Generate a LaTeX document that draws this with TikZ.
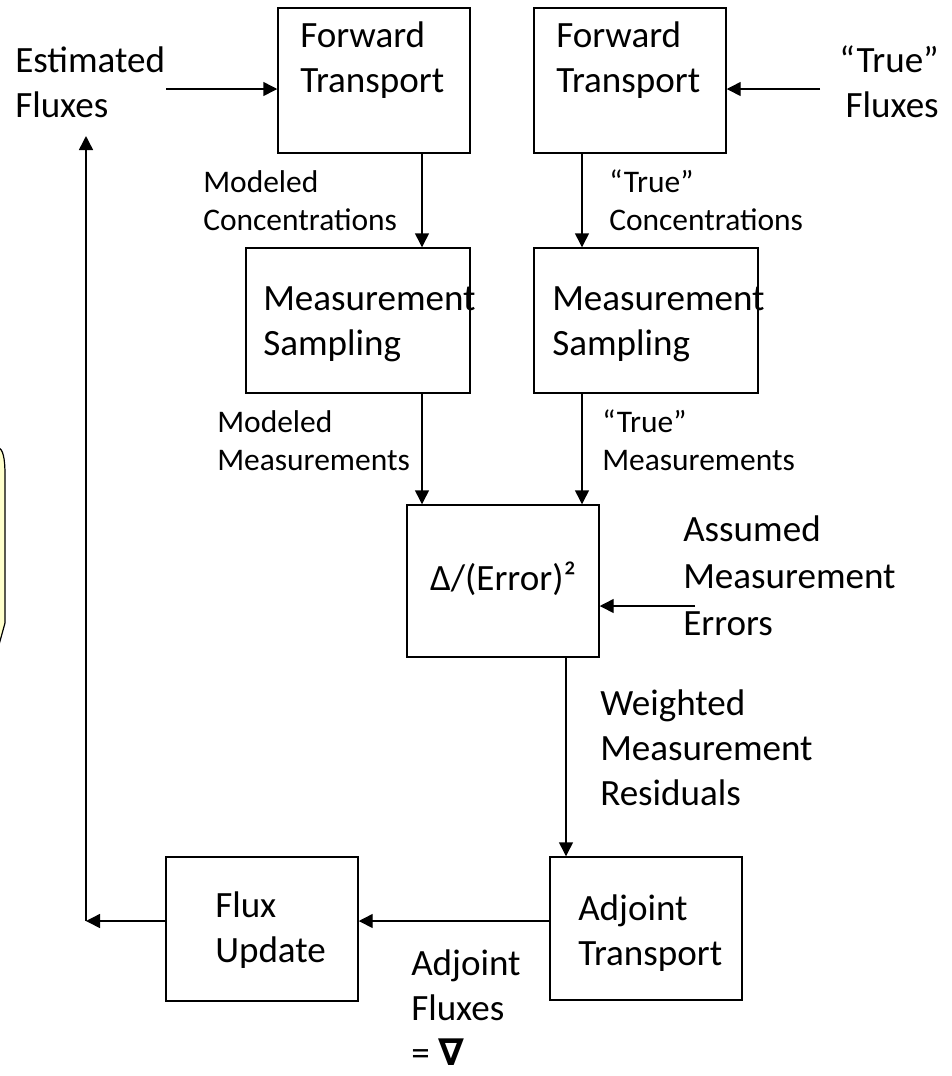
\documentclass[tikz,border=0pt]{standalone}
\usepackage{fontspec}
\setmainfont{Carlito}
\newfontfamily\nablafont{DejaVu Sans}
\usetikzlibrary{arrows.meta}
\definecolor{notefill}{HTML}{FFFFCC}
\tikzset{
  blk/.style={draw, line width=1.1pt, inner sep=0pt, minimum width=144pt, minimum height=108.75pt},
  big/.style={inner sep=0pt, anchor=north west, align=left, font=\fontsize{27.8}{33.75}\selectfont},
  sml/.style={inner sep=0pt, anchor=north west, align=left, font=\fontsize{23.6}{28.5}\selectfont},
  flow/.style={line width=1.1pt, -{Triangle[length=10.5pt,width=10.5pt]}}
}
\begin{document}
\begin{tikzpicture}[x=0.75pt,y=-0.75pt]
\useasboundingbox (0,0) rectangle (951,1076);
% note cut off at the left edge
\begin{scope}
  \clip (0,0) rectangle (951,1076);
  \draw[fill=notefill, line width=0.9pt] (-20,447) -- (-2,447) .. controls (3,449) and (5,458) .. (5,475) -- (5,623) -- (-3,652) -- (-20,652) -- cycle;
\end{scope}
% boxes
\node[blk] (ftl) at (374,80.5) {};
\node[blk] (ftr) at (630,80.5) {};
\node[blk, minimum width=168pt] (msl) at (358,320.5) {};
\node[blk, minimum width=168pt] (msr) at (646,320.5) {};
\node[blk, minimum height=114pt] (err) at (503,581) {};
\node[blk, minimum height=107.25pt] (adj) at (646,928.5) {};
\node[blk, minimum height=108pt] (flux) at (262,929) {};
% texts in the boxes
\node[big] (ftltxt) at (300,15.5) {\strut Forward\\Transport};
\node[big] (ftrtxt) at (556,15.5) {\strut Forward\\Transport};
\node[big] (msltxt) at (263,278.5) {\strut Measurement\\Sampling};
\node[big] (msrtxt) at (552,278.5) {\strut Measurement\\Sampling};
\node[big, anchor=center] (errtxt) at (503,579) {Δ/(Error)²};
\node[big] (adjtxt) at (578,888.5) {\strut Adjoint\\Transport};
\node[big] (fluxtxt) at (215,885.5) {\strut Flux\\Update};
% outside texts
\node[big] (est) at (15,40.5) {\strut Estimated\\Fluxes};
\node[big, anchor=north east, align=right] (tru) at (939,40.5) {\strut “True”\\Fluxes};
\node[sml] (mcon) at (203,165.4) {\strut Modeled\\Concentrations};
\node[sml] (tcon) at (609,165.4) {\strut “True”\\Concentrations};
\node[sml] (mmea) at (217,405.4) {\strut Modeled\\Measurements};
\node[sml] (tmea) at (602,405.4) {\strut “True”\\Measurements};
\node[big, font=\fontsize{27.8}{35.25}\selectfont] (ass) at (683,508) {\strut Assumed\\Measurement\\Errors};
\node[big] (wgt) at (600,683.5) {\strut Weighted\\Measurement\\Residuals};
\node[big] (adjflx) at (411,944) {\strut Adjoint\\Fluxes\\= {\nablafont\bfseries ∇}};
% free ends and columns
\coordinate (estend) at (166,89);
\coordinate (truend) at (820,89);
\coordinate (assend) at (695,606);
\coordinate (lcol) at (422,0);
\coordinate (rcol) at (582,0);
\coordinate (ccol) at (566,0);
\coordinate (brow) at (0,921);
\coordinate (loop) at (86,921);
\coordinate (looptop) at (86,136);
% connectors
\draw[flow] (estend) -- (estend -| ftl.west);
\draw[flow] (truend) -- (truend -| ftr.east);
\draw[flow] (ftl.south -| lcol) -- (msl.north -| lcol);
\draw[flow] (ftr.south -| rcol) -- (msr.north -| rcol);
\draw[flow] (msl.south -| lcol) -- (err.north -| lcol);
\draw[flow] (msr.south -| rcol) -- (err.north -| rcol);
\draw[flow] (assend) -- (assend -| err.east);
\draw[flow] (err.south -| ccol) -- (adj.north -| ccol);
\draw[flow] (adj.west |- brow) -- (flux.east |- brow);
\draw[flow] (flux.west |- brow) -- (loop);
\draw[flow] (loop) -- (looptop);
\end{tikzpicture}
\end{document}
